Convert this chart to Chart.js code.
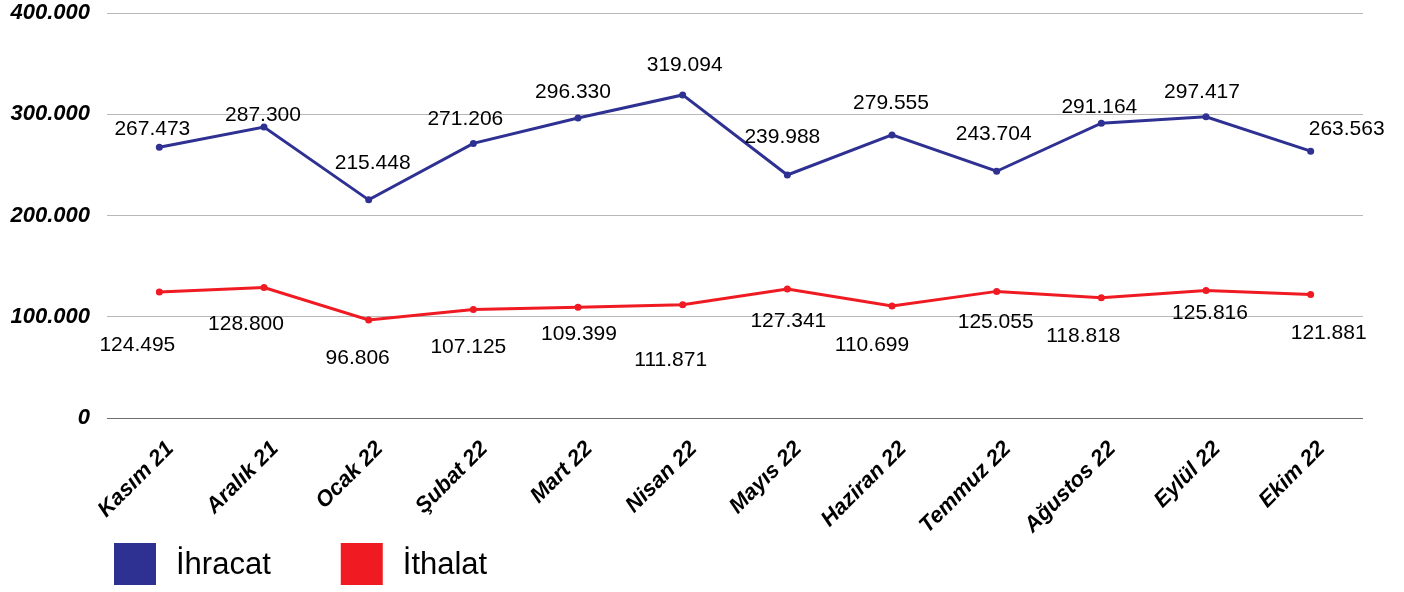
<!DOCTYPE html>
<html>
<head>
<meta charset="utf-8">
<script src="https://cdn.jsdelivr.net/npm/chart.js@4/dist/chart.umd.min.js"></script>
<style>
    html, body { margin: 0; padding: 0; background: #ffffff; }
    #wrap { width: 1404px; height: 592px; position: relative; }
</style>
</head>
<body>
<div id="wrap"><canvas id="tradeChart"></canvas></div>
<script>
const months = ['Kasım 21', 'Aralık 21', 'Ocak 22', 'Şubat 22', 'Mart 22', 'Nisan 22',
    'Mayıs 22', 'Haziran 22', 'Temmuz 22', 'Ağustos 22', 'Eylül 22', 'Ekim 22'];
const ihracat = [267473, 287300, 215448, 271206, 296330, 319094,
    239988, 279555, 243704, 291164, 297417, 263563];
const ithalat = [124495, 128800, 96806, 107125, 109399, 111871,
    127341, 110699, 125055, 118818, 125816, 121881];
const seriesNames = ['İhracat', 'İthalat'];
const yTicks = [0, 100000, 200000, 300000, 400000];

const blue = '#2e3192';
const red = '#f01a22';
const fontFamily = "'Liberation Sans', Arial, sans-serif";

// label nudges (dx, dy) relative to each point, like the original layout
const labelNudge = [
    [[-7, -19], [-1, -13], [4, -38], [-8, -25], [-5, -27], [2, -31],
     [-5, -39], [-1, -33], [-3, -38], [-2, -17], [-4, -26], [36, -23]],
    [[-22, 52], [-18, 36], [-11, 37], [-5, 37], [1, 26], [-12, 54],
     [1, 31], [-20, 38], [-1, 30], [-18, 38], [4, 22], [18, 38]]
];

function formatThousands(v) {
    return String(Math.round(v)).replace(/\B(?=(\d{3})+(?!\d))/g, '.');
}

const valueLabels = {
    id: 'valueLabels',
    afterDatasetsDraw(chart) {
        const ctx = chart.ctx;
        ctx.save();
        ctx.font = '21px ' + fontFamily;
        ctx.fillStyle = '#000000';
        ctx.textAlign = 'center';
        ctx.textBaseline = 'middle';
        chart.data.datasets.forEach((ds, di) => {
            const meta = chart.getDatasetMeta(di);
            meta.data.forEach((pt, i) => {
                const n = labelNudge[di][i];
                ctx.fillText(formatThousands(ds.data[i]), pt.x + n[0], pt.y + n[1] + 1);
            });
        });
        ctx.restore();
    }
};

const bottomLegend = {
    id: 'bottomLegend',
    afterDraw(chart) {
        const ctx = chart.ctx;
        ctx.save();
        ctx.font = '31px ' + fontFamily;
        ctx.textBaseline = 'alphabetic';
        ctx.textAlign = 'left';
        let x = 114;
        chart.data.datasets.forEach(ds => {
            ctx.fillStyle = ds.borderColor;
            ctx.fillRect(x, 543, 42, 42);
            ctx.fillStyle = '#000000';
            ctx.fillText(ds.label, x + 62, 574);
            x += 62 + ctx.measureText(ds.label).width + 70;
        });
        ctx.restore();
    }
};

const ctx = document.getElementById('tradeChart').getContext('2d');
new Chart(ctx, {
    type: 'line',
    data: {
        labels: months,
        datasets: [
            {
                label: seriesNames[0],
                data: ihracat,
                borderColor: blue,
                backgroundColor: blue,
                borderWidth: 3,
                pointRadius: 3.5,
                pointBorderWidth: 0,
                tension: 0
            },
            {
                label: seriesNames[1],
                data: ithalat,
                borderColor: red,
                backgroundColor: red,
                borderWidth: 3,
                pointRadius: 3.5,
                pointBorderWidth: 0,
                tension: 0
            }
        ]
    },
    options: {
        responsive: true,
        maintainAspectRatio: false,
        animation: false,
        layout: {
            padding: { top: 13, right: 41, bottom: 0, left: 0 }
        },
        scales: {
            x: {
                offset: true,
                border: { display: false },
                grid: { display: false, drawTicks: false },
                ticks: {
                    color: '#000000',
                    minRotation: 45,
                    maxRotation: 45,
                    padding: 18,
                    labelOffset: 11,
                    font: { family: fontFamily, size: 22, weight: 'bold', style: 'italic' }
                },
                afterFit: function(scale) {
                    scale.height = 174;
                }
            },
            y: {
                min: 0,
                max: 400000,
                border: { display: false },
                afterBuildTicks: function(scale) {
                    scale.ticks = yTicks.map(v => ({ value: v }));
                },
                grid: {
                    drawTicks: false,
                    color: function(c) {
                        return c.tick && c.tick.value === 0 ? '#6e6e6e' : '#b8b8b8';
                    },
                    lineWidth: 1
                },
                ticks: {
                    color: '#000000',
                    padding: 17,
                    font: { family: fontFamily, size: 22, weight: 'bold', style: 'italic' },
                    callback: function(value) {
                        return formatThousands(value);
                    }
                },
                afterFit: function(scale) {
                    // tick padding would otherwise push the plot top down
                    scale.width = 107;
                    scale.paddingTop = 0;
                    scale.paddingBottom = 0;
                }
            }
        },
        plugins: {
            legend: { display: false },
            tooltip: { enabled: false }
        }
    },
    plugins: [valueLabels, bottomLegend]
});
</script>
</body>
</html>
